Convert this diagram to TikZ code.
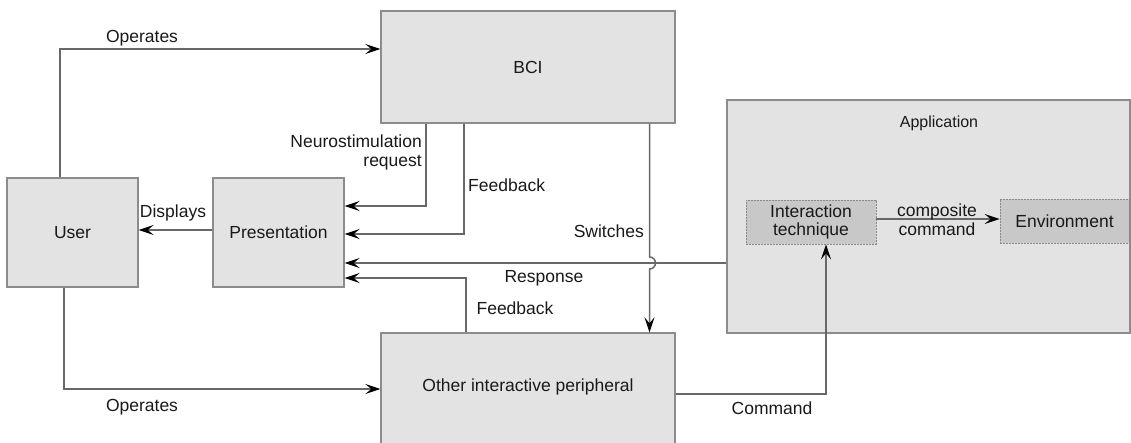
\documentclass[tikz,border=0pt]{standalone}
\usepackage{fontspec}
\setmainfont{Liberation Sans}
\usetikzlibrary{arrows.meta}
\definecolor{boxfill}{HTML}{E3E3E3}
\definecolor{boxline}{HTML}{8C8C8C}
\definecolor{innerfill}{HTML}{C8C8C8}
\definecolor{innerline}{HTML}{8A8A8A}
\definecolor{wire}{HTML}{686868}
\begin{document}
\begin{tikzpicture}[x=1pt,y=-1pt,
  every node/.style={font=\fontsize{17.5}{20}\selectfont, text=black!90},
  box/.style={draw=boxline, fill=boxfill, line width=1.4pt, inner sep=0pt},
  inner/.style={draw=innerline, fill=innerfill, line width=0.8pt, dash pattern=on 2pt off 1pt, inner sep=0pt, align=center},
  lbl/.style={inner sep=0pt},
  arr/.style={draw=wire, line width=1.5pt, -{Stealth[length=15pt,width=10pt,inset=6pt,black]}}
]
\useasboundingbox (0,0) rectangle (1131,442);
\clip (0,0) rectangle (1131,442);

% boxes
\node[box, minimum width=131pt, minimum height=109pt] (user) at (72.5,232.5) {User};
\node[box, minimum width=131pt, minimum height=109pt] (pres) at (278.5,232.5) {Presentation};
\node[box, minimum width=294pt, minimum height=112pt] (bci) at (528,67) {BCI};
\node[box, minimum width=403pt, minimum height=233pt] (app) at (928.5,216.5) {};
\node[lbl, font=\fontsize{16}{19}\selectfont] (apptext) at (939,123) {Application};
\node[inner, minimum width=130pt, minimum height=44pt] (inter) at (811,222) {Interaction\\[-2pt]technique};
\node[inner, minimum width=129pt, minimum height=44pt] (env) at (1064.5,221) {Environment};
\node[box, minimum width=294pt, minimum height=127pt] (periph) at (528,396.5) {};
\node[lbl] (periphtext) at (528,387) {Other interactive peripheral};

% connectors
\draw[arr] (user.north -| 60,0) |- (bci.west |- 0,49);
\draw[arr] (pres.west |- 0,230) -- (user.east |- 0,230);
\draw[arr] (bci.south -| 426,0) |- (pres.east |- 0,206);
\draw[arr] (bci.south -| 464,0) |- (pres.east |- 0,234);
\draw[arr] (app.west |- 0,263) -- (pres.east |- 0,263);
\draw[arr] (periph.north -| 466,0) |- (pres.east |- 0,278);
\draw[arr] (bci.south -| 649.5,0) -- (649.5,257) arc[start angle=-90, end angle=90, radius=6] -- (periph.north -| 649.5,0);
\draw[arr] (user.south -| 64,0) |- (periph.west |- 0,389);
\draw[arr] (periph.east |- 0,394) -| (inter.south -| 826,0);
\draw[arr] (inter.east |- 0,219) -- (env.west |- 0,219);

% labels
\node[lbl] (l-op1) at (142,38) {Operates};
\node[lbl] (l-disp) at (173,213) {Displays};
\node[lbl, align=right, anchor=east] (l-neuro) at (422,152) {Neurostimulation\\[-1pt]request};
\node[lbl, anchor=west] (l-fb1) at (468,185) {Feedback};
\node[lbl, anchor=east] (l-sw) at (644,231) {Switches};
\node[lbl] (l-resp) at (544,278) {Response};
\node[lbl] (l-fb2) at (515,308) {Feedback};
\node[lbl] (l-op2) at (142,407) {Operates};
\node[lbl] (l-cmd) at (772,408) {Command};
\node[lbl, align=center] (l-comp) at (937,219.5) {composite\\[-1pt]command};
\end{tikzpicture}
\end{document}
